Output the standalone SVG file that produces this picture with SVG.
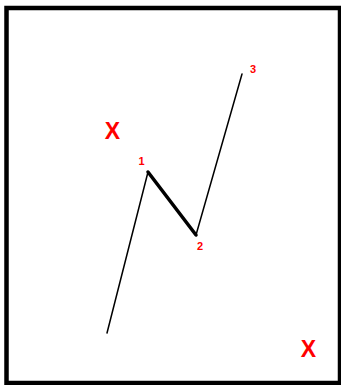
<svg xmlns="http://www.w3.org/2000/svg" width="341" height="385" viewBox="0 0 341 385">
<style>
.lbl{font-family:"Liberation Sans",Arial,sans-serif;fill:#ff0000;font-weight:bold;text-anchor:middle}
.num{font-size:11px}
.x{font-size:23px}
.thin{stroke:#000;stroke-width:1.5;fill:none;stroke-linecap:round}
.thick{stroke:#000;stroke-width:3.5;fill:none;stroke-linecap:round;stroke-linejoin:round}
</style>
<rect x="0" y="0" width="341" height="385" fill="#ffffff"/>
<rect x="6.5" y="8" width="333.5" height="375" fill="#ffffff" stroke="#000" stroke-width="4.5"/>
<g id="connectors">
<line class="thin" x1="107" y1="333" x2="148" y2="172"/>
<line class="thick" x1="148" y1="172" x2="196" y2="235"/>
<line class="thin" x1="196" y1="235" x2="242" y2="74"/>
</g>
<g id="p1"><text class="lbl num" x="141.5" y="165">1</text></g>
<g id="p2"><text class="lbl num" x="200" y="250">2</text></g>
<g id="p3"><text class="lbl num" x="253" y="72.5">3</text></g>
<g id="x1"><text class="lbl x" x="112.5" y="138.5">X</text></g>
<g id="x2"><text class="lbl x" x="308.5" y="357">X</text></g>
</svg>
